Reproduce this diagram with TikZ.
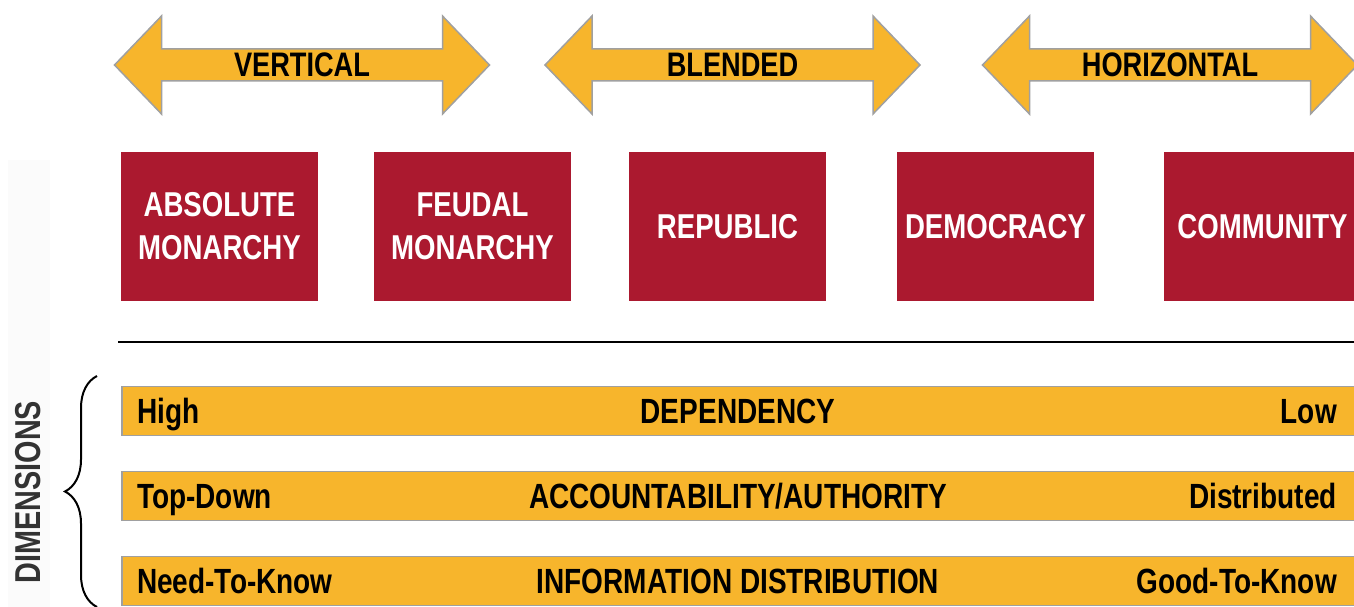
\documentclass[tikz,border=0pt]{standalone}
\usepackage{fontspec}
\setmainfont{Liberation Sans}[FakeStretch=0.8]
\usetikzlibrary{decorations.pathreplacing}

\definecolor{gold}{HTML}{F7B52C}
\definecolor{crimson}{HTML}{AB192F}
\definecolor{rim}{HTML}{A0A0A0}

\tikzset{
  arrowfill/.style={fill=gold, draw=rim, line width=1.5pt, line join=miter},
  arrowlabel/.style={font=\fontsize{34}{40}\selectfont\bfseries, text height=24pt, text depth=0pt, inner sep=0pt},
  govbox/.style={fill=crimson, text=white, minimum width=197pt, minimum height=149pt, inner sep=0pt,
    align=center, font=\fontsize{34.5}{43}\selectfont\bfseries},
  dimbar/.style={fill=gold, draw=rim, line width=1.5pt, minimum width=1236pt, minimum height=49pt,
    inner sep=0pt, anchor=west},
  barlabel/.style={font=\fontsize{35}{40}\selectfont\bfseries, text height=24pt, text depth=0pt, inner sep=0pt}
}

\begin{document}
\begin{tikzpicture}[x=1pt, y=-1pt]

  \useasboundingbox (0,0) rectangle (1354,607);

  \newcommand\halflen{187.5}
  \newcommand\headlen{47}

  % arrows on top
  \foreach \cx/\lbl/\nm in {302/VERTICAL/vert, 732.5/BLENDED/blend, 1170/HORIZONTAL/horiz}{
    \draw[arrowfill] (\cx-\halflen,65) -- (\cx-\halflen+\headlen,16) -- (\cx-\halflen+\headlen,49)
      -- (\cx+\halflen-\headlen,49) -- (\cx+\halflen-\headlen,16) -- (\cx+\halflen,65)
      -- (\cx+\halflen-\headlen,114) -- (\cx+\halflen-\headlen,81) -- (\cx-\halflen+\headlen,81)
      -- (\cx-\halflen+\headlen,114) -- cycle;
    \node[arrowlabel] (\nm) at (\cx,65) {\lbl};
  }

  % forms of government
  \node[govbox] (absolute) at (219.5,226.5) {ABSOLUTE\\MONARCHY};
  \node[govbox] (feudal) at (472.5,226.5) {FEUDAL\\MONARCHY};
  \node[govbox] (republic) at (727.5,226.5) {REPUBLIC};
  \node[govbox] (democracy) at (995.5,226.5) {DEMOCRACY};
  \node[govbox] (community) at (1262.5,226.5) {COMMUNITY};

  \draw[line width=2pt] (118,342) -- (1354,342);

  % dimensions
  \fill[gray!3] (8,160) rectangle (50,607);
  \node[barlabel, rotate=90, text=black!80, font=\fontsize{36}{40}\selectfont\bfseries] (dimensions) at (28,492) {DIMENSIONS};
  \draw[line width=2pt, decorate, decoration={brace, amplitude=32pt}] (97,607) -- (97,376);

  \foreach \yy/\lft/\mid/\rgt/\nm in {411/High/DEPENDENCY/Low/dep,
      496/Top-Down/{ACCOUNTABILITY/AUTHORITY}/Distributed/acc,
      581/Need-To-Know/INFORMATION DISTRIBUTION/Good-To-Know/info}{
    \node[dimbar] (\nm) at (121,\yy) {};
    \node[barlabel, anchor=west] (\nm-lo) at (137,\yy) {\lft};
    \node[barlabel] (\nm-name) at (738,\yy) {\mid};
    \node[barlabel, anchor=east] (\nm-hi) at (1337,\yy) {\rgt};
  }

\end{tikzpicture}
\end{document}
